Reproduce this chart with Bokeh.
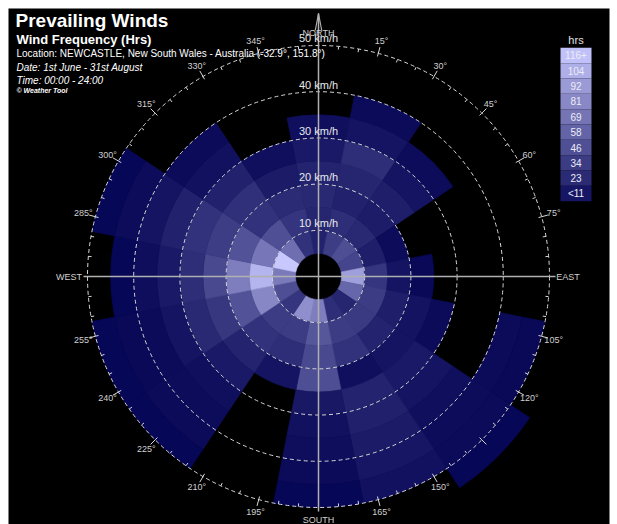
import numpy as np
from bokeh.plotting import figure
from bokeh.models import ColumnDataSource, Range1d
from bokeh.core.properties import value
from bokeh.embed import file_html
from bokeh.resources import INLINE

# ---------------- data ----------------
directions = ["N", "NNE", "NE", "ENE", "E", "ESE", "SE", "SSE",
              "S", "SSW", "SW", "WSW", "W", "WNW", "NW", "NNW"]
direction_deg = [0, 22.5, 45, 67.5, 90, 112.5, 135, 157.5,
                 180, 202.5, 225, 247.5, 270, 292.5, 315, 337.5]
speed_lower = [5, 10, 15, 20, 25, 30, 35, 40, 45, 50]
speed_upper = [10, 15, 20, 25, 30, 35, 40, 45, 50, 55]

# hours per speed bin (5-10, 10-15, ... 50-55 km/h)
hrs_N   = [18, 20, 22, 19, 13, 7, 0, 0, 0, 0]
hrs_NNE = [35, 25, 18, 20, 25, 10, 4, 0, 0, 0]
hrs_NE  = [45, 22, 15, 16, 10, 5, 0, 0, 0, 0]
hrs_ENE = [40, 16, 5, 0, 0, 0, 0, 0, 0, 0]
hrs_E   = [95, 30, 10, 3, 0, 0, 0, 0, 0, 0]
hrs_ESE = [60, 34, 16, 9, 4, 0, 0, 4, 3, 0]
hrs_SE  = [20, 33, 19, 10, 13, 10, 7, 5, 4, 2]
hrs_SSE = [25, 34, 28, 7, 19, 17, 14, 11, 8, 0]
hrs_S   = [75, 50, 42, 45, 12, 8, 6, 4, 2, 0]
hrs_SSW = [85, 34, 25, 10, 0, 0, 0, 0, 0, 0]
hrs_SW  = [30, 34, 28, 19, 13, 7, 5, 4, 2, 0]
hrs_WSW = [45, 80, 48, 31, 22, 10, 4, 3, 2, 0]
hrs_W   = [72, 108, 75, 42, 25, 13, 6, 2, 0, 0]
hrs_WNW = [120, 70, 48, 35, 28, 18, 10, 5, 2, 0]
hrs_NW  = [65, 46, 28, 27, 18, 8, 4, 0, 0, 0]
hrs_NNW = [28, 30, 23, 14, 7, 0, 0, 0, 0, 0]
hours = [hrs_N, hrs_NNE, hrs_NE, hrs_ENE, hrs_E, hrs_ESE, hrs_SE, hrs_SSE,
         hrs_S, hrs_SSW, hrs_SW, hrs_WSW, hrs_W, hrs_WNW, hrs_NW, hrs_NNW]

legend_labels = ["116+", "104", "92", "81", "69", "58", "46", "34", "23", "<11"]
legend_values = [116, 104, 92, 81, 69, 58, 46, 34, 23, 11]
ring_speeds = [10, 20, 30, 40, 50]
ring_labels = ["10 km/h", "20 km/h", "30 km/h", "40 km/h", "50 km/h"]
angle_marks = [15, 30, 45, 60, 75, 105, 120, 135, 150, 165,
               195, 210, 225, 240, 255, 285, 300, 315, 330, 345]
cardinal_names = ["NORTH", "EAST", "SOUTH", "WEST"]
cardinal_deg = [0, 90, 180, 270]

title = "Prevailing Winds"
subtitle = "Wind Frequency (Hrs)"
location = "Location: NEWCASTLE, New South Wales - Australia (-32.9\u00b0, 151.8\u00b0)"
date_txt = "Date: 1st June - 31st August"
time_txt = "Time: 00:00 - 24:00"
credit = "\u00a9 Weather Tool"

# ---------------- layout ----------------
PX = 4.62              # pixels per km/h
FW, FH = 601, 516      # black frame size
CX, CY = 310, 268      # frame pixel of the rose centre
FONT = value("Liberation Sans")


def X(img_x):
    return (img_x - 8 - CX) / PX


def Y(img_y):
    return (CY - (img_y - 8)) / PX


def colour(v):
    t = min(max(v / 120.0, 0.0), 1.0)
    r = int(round(4 + 196 * t))
    b = int(round(84 + 171 * t))
    return "#%02x%02x%02x" % (r, r, b)


p = figure(width=FW + 16, height=FH + 8,
           x_range=Range1d(-CX / PX, (FW - CX) / PX),
           y_range=Range1d(-(FH - CY) / PX, CY / PX),
           output_backend="svg", toolbar_location=None,
           min_border_left=8, min_border_top=8, min_border_right=8, min_border_bottom=0,
           background_fill_color="black", border_fill_color="white")
p.axis.visible = False
p.grid.visible = False
p.outline_line_color = None

# angle labels (drawn under the wedges)
lab_r = 52.7
ang = np.radians(90 - np.array(angle_marks, dtype=float))
p.text(x=lab_r * np.cos(ang), y=lab_r * np.sin(ang),
       text=["%d\u00b0" % a for a in angle_marks],
       text_font=FONT, text_font_size="9px", text_color="#d0d0d0",
       text_align="center", text_baseline="middle")

# wedges
rows = dict(inner=[], outer=[], start=[], end=[], color=[])
for deg, vals in zip(direction_deg, hours):
    for lo, hi, v in zip(speed_lower, speed_upper, vals):
        if v <= 0:
            continue
        rows["inner"].append(lo)
        rows["outer"].append(hi)
        rows["start"].append(np.radians(90 - deg - 11.25))
        rows["end"].append(np.radians(90 - deg + 11.25))
        rows["color"].append(colour(v))
src = ColumnDataSource(rows)
p.annular_wedge(x=0, y=0, inner_radius="inner", outer_radius="outer",
                start_angle="start", end_angle="end",
                fill_color="color", line_color="color", line_width=0.6,
                source=src)

# dashed rings
p.circle(x=[0] * len(ring_speeds), y=[0] * len(ring_speeds), radius=ring_speeds,
         fill_color=None, line_color="#d8d8d8", line_dash="4 3", line_width=1)

# ticks on outer ring
outer = ring_speeds[-1]
small = np.radians(90 - np.arange(0, 360, 5, dtype=float))
p.segment(x0=(outer - 0.7) * np.cos(small), y0=(outer - 0.7) * np.sin(small),
          x1=outer * np.cos(small), y1=outer * np.sin(small),
          line_color="#d8d8d8", line_width=1)
p.segment(x0=outer * np.cos(ang), y0=outer * np.sin(ang),
          x1=(outer + 1.4) * np.cos(ang), y1=(outer + 1.4) * np.sin(ang),
          line_color="#d8d8d8", line_width=1)

# cross axes
p.segment(x0=[X(83), 0], y0=[0, Y(511)], x1=[X(555), 0], y1=[0, Y(13)],
          line_color="#b0b0b0", line_width=1.5)
# north arrow head
p.segment(x0=[0, 0], y0=[Y(13), Y(13)], x1=[-0.7, 0.7], y1=[Y(30), Y(30)],
          line_color="#b0b0b0", line_width=1.2)

# ring labels
p.text(x=[0] * len(ring_speeds), y=[r + 0.25 for r in ring_speeds], text=ring_labels,
       text_font=FONT, text_font_size="11px", text_color="#e8e8e8",
       text_align="center", text_baseline="bottom")

# cardinal labels
card_r = [52.6, 54.0, 52.6, 54.0]
ca = np.radians(90 - np.array(cardinal_deg, dtype=float))
p.text(x=np.array(card_r) * np.cos(ca), y=np.array(card_r) * np.sin(ca),
       text=cardinal_names, text_font=FONT, text_font_size="9px",
       text_color="#d0d0d0", text_align="center", text_baseline="middle")

# titles
p.text(x=[X(15)], y=[Y(9)], text=[title], text_font=FONT, text_font_size="19px",
       text_font_style="bold", text_color="white", text_baseline="top")
p.text(x=[X(16)], y=[Y(31)], text=[subtitle], text_font=FONT, text_font_size="13px",
       text_font_style="bold", text_color="white", text_baseline="top")
p.text(x=[X(16)], y=[Y(47)], text=[location], text_font=FONT, text_font_size="10px",
       text_color="white", text_baseline="top")
p.text(x=[X(16)], y=[Y(61)], text=[date_txt], text_font=FONT, text_font_size="10px",
       text_font_style="italic", text_color="white", text_baseline="top")
p.text(x=[X(16)], y=[Y(74)], text=[time_txt], text_font=FONT, text_font_size="10px",
       text_font_style="italic", text_color="white", text_baseline="top")
p.text(x=[X(16)], y=[Y(86)], text=[credit], text_font=FONT, text_font_size="7px",
       text_font_style="bold italic", text_color="white", text_baseline="top")

# colour legend
n = len(legend_values)
box_top, box_h = 47.3, 15.34
tops = [Y(box_top + i * box_h) for i in range(n)]
bots = [Y(box_top + (i + 1) * box_h) for i in range(n)]
p.quad(left=X(560), right=X(591), top=tops, bottom=bots,
       fill_color=[colour(v) for v in legend_values], line_color=None)
p.text(x=[X(575.5)] * n, y=[(t + b) / 2 for t, b in zip(tops, bots)], text=legend_labels,
       text_font=FONT, text_font_size="10px", text_color="#ececf4",
       text_align="center", text_baseline="middle")
p.text(x=[X(575.5)], y=[Y(39)], text=["hrs"], text_font=FONT, text_font_size="11px",
       text_color="#e0e0e0", text_align="center", text_baseline="middle")

open("out.html", "w").write(file_html(p, INLINE))
